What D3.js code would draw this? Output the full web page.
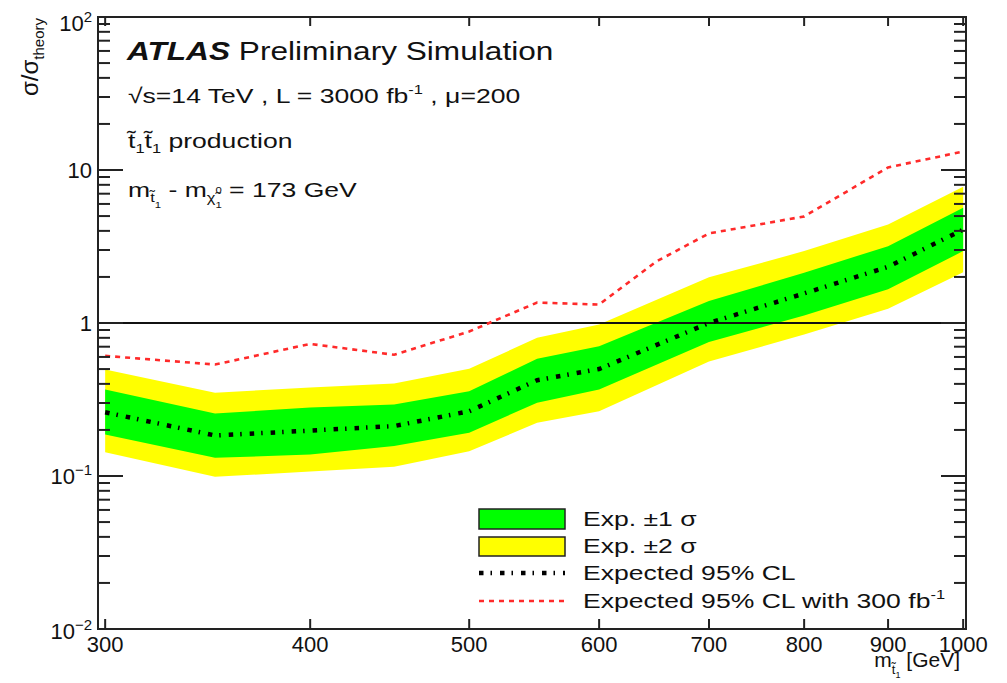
<!DOCTYPE html>
<html>
<head>
<meta charset="utf-8">
<script src="https://cdn.jsdelivr.net/npm/d3@7"></script>
<style>
  body { margin: 0; background: #fff; }
  text { font-family: "Liberation Sans", Arial, Helvetica, sans-serif; fill: #111; }
</style>
</head>
<body>
<svg id="canvas" width="1007" height="683"></svg>
<script>
// stop mass points (GeV) for the 3000 fb-1 expected limit and bands
const massPoints = [300, 350, 400, 450, 500, 550, 600, 700, 800, 900, 1000];
const expected = [0.261, 0.184, 0.198, 0.212, 0.265, 0.423, 0.5, 1.0, 1.56, 2.33, 4.08];
const oneSigmaUp = [0.367, 0.256, 0.28, 0.293, 0.358, 0.583, 0.705, 1.39, 2.13, 3.18, 5.66];
const oneSigmaDown = [0.187, 0.1315, 0.138, 0.157, 0.192, 0.301, 0.367, 0.75, 1.12, 1.66, 2.95];
const twoSigmaUp = [0.497, 0.35, 0.379, 0.403, 0.502, 0.8, 0.977, 1.99, 2.95, 4.4, 7.77];
const twoSigmaDown = [0.143, 0.0988, 0.107, 0.115, 0.145, 0.223, 0.265, 0.56, 0.84, 1.24, 2.15];

// expected limit with 300 fb-1
const massPoints300 = [300, 350, 400, 450, 500, 550, 600, 650, 700, 800, 900, 1000];
const expected300 = [0.61, 0.535, 0.73, 0.62, 0.88, 1.36, 1.32, 2.52, 3.85, 4.97, 10.4, 13.2];

const xTicks = [300, 400, 500, 600, 700, 800, 900, 1000];
const yDecades = [-2, -1, 0, 1, 2];
const yLabels = [["10", "\u22122"], ["10", "\u22121"], ["1", null], ["10", null], ["10", "2"]];

const legendLabels = ["Exp. \u00b11 \u03c3", "Exp. \u00b12 \u03c3", "Expected 95% CL", "Expected 95% CL with 300 fb"];

const svg = d3.select("#canvas");

const plotLeft = 98, plotRight = 966, plotTop = 17, plotBottom = 629;
const wide = 1.265; // the labels in the picture are drawn wider than plain Arial

const x = d3.scaleLog().domain([297, 1004]).range([plotLeft, plotRight]);
const y = d3.scaleLog().domain([0.01, 100]).range([plotBottom, plotTop]);

const rows = massPoints.map((m, i) => ({
  m: m,
  exp: expected[i],
  u1: oneSigmaUp[i],
  d1: oneSigmaDown[i],
  u2: twoSigmaUp[i],
  d2: twoSigmaDown[i]
}));
const rows300 = massPoints300.map((m, i) => ({ m: m, v: expected300[i] }));

const bandArea = (lo, hi) =>
  d3.area().x((d) => x(d.m)).y0((d) => y(d[lo])).y1((d) => y(d[hi]));

svg.append("path").datum(rows).attr("d", bandArea("d2", "u2")).attr("fill", "#ffff00");
svg.append("path").datum(rows).attr("d", bandArea("d1", "u1")).attr("fill", "#00ff00");

// sigma/sigma_theory = 1 line
svg.append("line")
  .attr("x1", plotLeft).attr("x2", plotRight)
  .attr("y1", y(1)).attr("y2", y(1))
  .attr("stroke", "#111").attr("stroke-width", 2);

svg.append("path")
  .datum(rows300)
  .attr("d", d3.line().x((d) => x(d.m)).y((d) => y(d.v)))
  .attr("fill", "none")
  .attr("stroke", "#ff2a2a")
  .attr("stroke-width", 2.6)
  .attr("stroke-dasharray", "5 5");

svg.append("path")
  .datum(rows)
  .attr("d", d3.line().x((d) => x(d.m)).y((d) => y(d.exp)))
  .attr("fill", "none")
  .attr("stroke", "#000")
  .attr("stroke-width", 4.5)
  .attr("stroke-dasharray", "4.5 7 1.5 8");

// frame
svg.append("rect")
  .attr("x", plotLeft).attr("y", plotTop)
  .attr("width", plotRight - plotLeft).attr("height", plotBottom - plotTop)
  .attr("fill", "none").attr("stroke", "#222").attr("stroke-width", 2);

// y ticks (left and right), log minor ticks
const axisG = svg.append("g").attr("stroke", "#222").attr("stroke-width", 2);
yDecades.forEach((e) => {
  const major = Math.pow(10, e);
  axisG.append("line").attr("x1", plotLeft).attr("x2", plotLeft + 25).attr("y1", y(major)).attr("y2", y(major));
  axisG.append("line").attr("x1", plotRight).attr("x2", plotRight - 25).attr("y1", y(major)).attr("y2", y(major));
  if (e < 2) {
    d3.range(2, 10).forEach((k) => {
      const v = k * major;
      axisG.append("line").attr("x1", plotLeft).attr("x2", plotLeft + 12).attr("y1", y(v)).attr("y2", y(v));
      axisG.append("line").attr("x1", plotRight).attr("x2", plotRight - 12).attr("y1", y(v)).attr("y2", y(v));
    });
  }
});

// x ticks (bottom and top)
xTicks.forEach((t) => {
  axisG.append("line").attr("x1", x(t)).attr("x2", x(t)).attr("y1", plotBottom).attr("y2", plotBottom - 10);
  axisG.append("line").attr("x1", x(t)).attr("x2", x(t)).attr("y1", plotTop).attr("y2", plotTop + 9);
});

// tick labels
svg.selectAll(".xlabel")
  .data(xTicks)
  .enter()
  .append("text")
  .attr("class", "xlabel")
  .attr("x", (t) => x(t))
  .attr("y", 652)
  .attr("text-anchor", "middle")
  .attr("font-size", 22)
  .text((t) => t);

yDecades.forEach((e, i) => {
  const lab = yLabels[i];
  let cy = y(Math.pow(10, e)) + 8;
  if (e === 2) cy = 31;
  if (e === -2) cy = 639;
  const t = svg.append("text")
    .attr("x", 92)
    .attr("y", cy)
    .attr("text-anchor", "end")
    .attr("font-size", 22);
  t.append("tspan").text(lab[0]);
  if (lab[1]) {
    t.append("tspan").attr("dy", -9).attr("font-size", 15).text(lab[1]);
  }
});

// axis titles
const yTitle = svg.append("text")
  .attr("transform", "translate(38,18) rotate(-90)")
  .attr("text-anchor", "end")
  .attr("font-size", 24);
yTitle.append("tspan").text("\u03c3/\u03c3");
yTitle.append("tspan").attr("dy", 6).attr("font-size", 15).text("theory");

const xTitle = svg.append("text")
  .attr("x", 960)
  .attr("y", 667)
  .attr("text-anchor", "end")
  .attr("font-size", 21);
xTitle.append("tspan").text("m");
xTitle.append("tspan").attr("dy", 7).attr("font-size", 13).text("t\u0303");
xTitle.append("tspan").attr("dy", 4).attr("font-size", 9).text("1");
xTitle.append("tspan").attr("dy", -11).text(" [GeV]");

// widened label text
const wideText = (px, py, size) =>
  svg.append("g")
    .attr("transform", "translate(" + px + "," + py + ") scale(" + wide + ",1)")
    .append("text")
    .attr("font-size", size);

// ATLAS labels
const t1 = wideText(127, 60, 25);
t1.append("tspan").attr("font-weight", "bold").attr("font-style", "italic").text("ATLAS");
t1.append("tspan").text(" Preliminary Simulation");

const t2 = wideText(128, 103, 21);
t2.append("tspan").text("\u221as=14 TeV , L = 3000 fb");
t2.append("tspan").attr("dy", -9).attr("font-size", 13).text("-1");
t2.append("tspan").attr("dy", 9).text(" , \u03bc=200");

const t3 = wideText(128, 148, 21);
t3.append("tspan").text("t\u0303");
t3.append("tspan").attr("dy", 5).attr("font-size", 13).text("1");
t3.append("tspan").attr("dy", -5).text("t\u0303");
t3.append("tspan").attr("dy", 5).attr("font-size", 13).text("1");
t3.append("tspan").attr("dy", -5).text(" production");

const t4 = wideText(128, 197, 21);
t4.append("tspan").text("m");
t4.append("tspan").attr("dy", 5).attr("font-size", 13).text("t\u0303");
t4.append("tspan").attr("dy", 6).attr("font-size", 9).text("1");
t4.append("tspan").attr("dy", -11).text(" - m");
t4.append("tspan").attr("dy", 5).attr("font-size", 13).text("\u03c7\u0303");
t4.append("tspan").attr("dy", -9).attr("font-size", 9).text("0");
t4.append("tspan").attr("dy", 15).attr("dx", -5).attr("font-size", 9).text("1");
t4.append("tspan").attr("dy", -11).text(" = 173 GeV");

// legend
const legendX = 479, legendW = 86, textX = 583;
const rowY = [519, 546, 573, 601];

svg.append("rect").attr("x", legendX).attr("y", 509).attr("width", legendW).attr("height", 20)
  .attr("fill", "#00ff00").attr("stroke", "#222").attr("stroke-width", 1.5);
svg.append("rect").attr("x", legendX).attr("y", 537).attr("width", legendW).attr("height", 19)
  .attr("fill", "#ffff00").attr("stroke", "#222").attr("stroke-width", 1.5);
svg.append("line").attr("x1", legendX).attr("x2", legendX + legendW).attr("y1", rowY[2]).attr("y2", rowY[2])
  .attr("stroke", "#000").attr("stroke-width", 4.5).attr("stroke-dasharray", "4.5 7 1.5 8");
svg.append("line").attr("x1", legendX).attr("x2", legendX + legendW).attr("y1", rowY[3]).attr("y2", rowY[3])
  .attr("stroke", "#ff2a2a").attr("stroke-width", 2.6).attr("stroke-dasharray", "5 5");

legendLabels.forEach((lab, i) => {
  const t = wideText(textX, rowY[i] + 7, 21);
  t.append("tspan").text(lab);
  if (i === 3) {
    t.append("tspan").attr("dy", -9).attr("font-size", 13).text("-1");
  }
});
</script>
</body>
</html>
